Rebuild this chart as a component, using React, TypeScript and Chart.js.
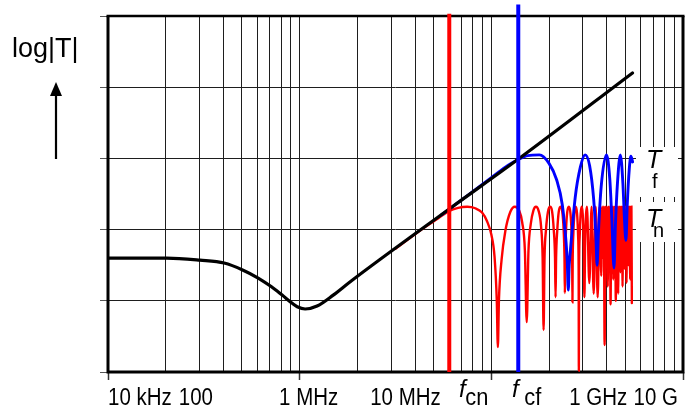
import React, { useEffect, useRef } from "react";
import { Chart, registerables } from "chart.js";

Chart.register(...registerables);

// ---- axes ----------------------------------------------------------------
// grid lines of the figure (Hz): inside every two-decade band the lines sit at 1,4,9,...,100 x band start
const gridFreqs = [
  1e4, 4e4, 9e4, 1.6e5, 2.5e5, 3.6e5, 4.9e5, 6.4e5, 8.1e5,
  1e6, 4e6, 9e6, 1.6e7, 2.5e7, 3.6e7, 4.9e7, 6.4e7, 8.1e7,
  1e8, 4e8, 9e8, 1.6e9, 2.5e9, 3.6e9, 4.9e9, 6.4e9, 8.1e9, 1e10,
];
const majorFreqs = [1e4, 1e6, 1e8, 1e10];
const xLabelFreqs = [1e4, 1e5, 1e6, 1e7, 1e9, 1e10];
const xLabelTexts = ["10 kHz", "100", "1 MHz", "10 MHz", "1 GHz", "10 G"];
const yMin = 0;
const yMax = 5;

// ---- curves (frequency, log|T|) --------------------------------------------
const envFreqHz = [
  1e4, 4.1e4, 9.1e4, 1.63e5, 2.57e5, 3.69e5, 5.04e5, 6.56e5, 8.36e5, 9.42e5,
  1.14e6, 1.52e6, 2.24e6, 3.37e6, 3.73e7, 1.87e8, 2.97e9,
];
const envLogT = [
  1.6, 1.6, 1.57, 1.53, 1.43, 1.32, 1.2, 1.08, 0.965, 0.917,
  0.885, 0.927, 1.08, 1.268, 2.3, 2.98, 4.2,
];

const tfFreqMHz = [
  30, 60, 100, 150, 191, 240, 317, 400, 480, 550, 600, 620, 635, 650, 670, 750, 850,
  952, 1060, 1170, 1230, 1270, 1310, 1400, 1590, 1720, 1810, 1905, 1970, 2070,
  2220, 2360, 2450, 2540, 2620, 2750, 2860, 2980,
];
const tfLogT = [
  2.205, 2.506, 2.728, 2.904, 2.985, 3.04, 3.05, 2.93, 2.7, 2.35, 1.85, 1.55, 1.15, 1.5, 1.72, 2.45, 2.88,
  3.05, 2.9, 2.42, 1.95, 1.5, 1.95, 2.6, 3.05, 2.72, 2.15, 1.46, 2.05, 2.65,
  3.05, 2.65, 2.15, 1.85, 2.35, 2.85, 3.03, 2.95,
];

const tnFreqMHz = [
  10, 20, 28, 36, 45, 56, 68, 80, 90, 100, 108, 114, 117, 120, 128, 140, 158,
  176, 195, 210, 224, 234, 244, 258, 275, 292, 312, 330, 343, 351, 359, 372, 390,
  410, 430, 448, 462, 468, 474, 488, 505, 527, 550, 568, 580, 585, 590, 602, 620,
  644, 668, 688, 698, 702, 706, 718, 738, 760, 785, 805, 815, 819, 823, 835, 855,
  877, 920, 936, 952, 995, 1053, 1112, 1170, 1229, 1287, 1346, 1404,
  1433, 1463, 1492, 1521, 1550, 1580, 1609, 1638, 1667, 1697, 1726, 1755, 1784,
  1814, 1843, 1872, 1901, 1931, 1960, 1989, 2018, 2048, 2077, 2106, 2135, 2165,
  2194, 2223, 2252, 2282, 2311, 2340, 2369, 2399, 2428, 2457, 2486, 2516, 2545,
  2574, 2603, 2633, 2662, 2691, 2720, 2750, 2779, 2808, 2837, 2867, 2896, 2925,
];
const tnLogT = [
  1.73, 2.03, 2.16, 2.26, 2.305, 2.32, 2.3, 2.24, 2.12, 1.93, 1.62, 1.0, 0.35, 1.0, 1.58, 1.98, 2.25,
  2.32, 2.27, 2.1, 1.7, 0.7, 1.7, 2.08, 2.27, 2.32, 2.26, 2.05, 1.6, 0.59, 1.6, 2.0, 2.25,
  2.32, 2.26, 2.0, 1.6, 1.05, 1.6, 2.0, 2.25, 2.32, 2.25, 2.0, 1.6, 1.11, 1.6, 2.0, 2.25,
  2.32, 2.24, 1.95, 1.55, 0.98, 1.55, 1.95, 2.24, 2.32, 2.22, 1.9, 1.4, 0.02, 1.4, 1.9, 2.22,
  2.32, 1.8, 1.05, 1.8, 2.32, 1.25, 2.32, 1.1, 2.32, 1.05, 2.32, 1.35,
  2.32, 1.6, 2.32, 0.38, 2.32, 1.5, 2.32, 1.2, 2.32, 1.55, 2.32, 0.95, 2.32,
  1.45, 2.32, 1.3, 2.32, 1.6, 2.32, 1.0, 2.32, 1.5, 2.32, 1.1, 2.32, 1.6,
  2.32, 1.4, 2.32, 1.55, 2.32, 1.2, 2.32, 1.65, 2.32, 1.45, 2.32, 1.6, 2.32,
  1.25, 2.32, 1.6, 2.32, 1.5, 2.32, 1.65, 2.32, 1.3, 2.32, 1.6, 2.32, 0.97,
];

// corner frequencies and the extent of their marker lines (log|T| units)
const fcnHz = 36.4e6;
const fcfHz = 191e6;
const fcnSpan = [0, 5.03];
const fcfSpan = [0, 5.16];

const FONT = "'Liberation Sans', Arial, Helvetica, sans-serif";

function txt(
  ctx: CanvasRenderingContext2D,
  s: string,
  x: number,
  y: number,
  font: string,
  align: CanvasTextAlign = "left",
  sx = 1
) {
  ctx.save();
  ctx.font = font;
  ctx.textAlign = align;
  ctx.textBaseline = "alphabetic";
  ctx.fillStyle = "#000";
  ctx.translate(x, y);
  ctx.scale(sx, 1);
  ctx.fillText(s, 0, 0);
  ctx.restore();
}

const decor = {
  id: "decor",
  beforeDatasetsDraw(chart: any) {
    const { ctx, chartArea: a } = chart;
    ctx.save();
    // white boxes behind the curve names
    ctx.fillStyle = "#fff";
    ctx.fillRect(636, 147, 42, 50);
    ctx.fillRect(636, 202, 42, 40);
    // frame
    ctx.strokeStyle = "#000";
    ctx.lineWidth = 3;
    ctx.beginPath();
    ctx.moveTo(a.left, a.top);
    ctx.lineTo(a.left, a.bottom);
    ctx.lineTo(a.right, a.bottom);
    ctx.lineTo(a.right, a.top);
    ctx.stroke();
    ctx.lineWidth = 2.5;
    ctx.beginPath();
    ctx.moveTo(a.left - 1.5, a.top);
    ctx.lineTo(a.right + 1.5, a.top);
    ctx.stroke();
    ctx.restore();
  },
  afterDraw(chart: any) {
    const { ctx } = chart;
    const xs = chart.scales.x;
    // y-axis title with arrow
    txt(ctx, "log|T|", 12, 57, `27px ${FONT}`);
    ctx.save();
    ctx.strokeStyle = "#000";
    ctx.fillStyle = "#000";
    ctx.lineWidth = 2.2;
    ctx.beginPath();
    ctx.moveTo(56, 94);
    ctx.lineTo(56, 159);
    ctx.stroke();
    ctx.beginPath();
    ctx.moveTo(56, 82);
    ctx.lineTo(50, 96);
    ctx.lineTo(62, 96);
    ctx.closePath();
    ctx.fill();
    ctx.restore();

    // x tick labels
    const shift = [0, -8, 9, 10, 11, -5];
    const align: CanvasTextAlign[] = ["left", "center", "center", "center", "center", "right"];
    xLabelFreqs.forEach((f, i) => {
      const px = xs.getPixelForValue(f) + shift[i];
      txt(ctx, xLabelTexts[i], px, 405, `23px ${FONT}`, align[i], 0.89);
    });

    // corner frequency labels
    const pn = xs.getPixelForValue(fcnHz);
    const pf = xs.getPixelForValue(fcfHz);
    txt(ctx, "f", pn + 13, 397, `italic 24px ${FONT}`, "center");
    txt(ctx, "cn", pn + 16, 405, `23px ${FONT}`, "left", 0.95);
    txt(ctx, "f", pf - 3, 397, `italic 24px ${FONT}`, "center");
    txt(ctx, "cf", pf + 6, 405, `23px ${FONT}`, "left", 0.95);

    // curve names
    txt(ctx, "T", 646, 168, `italic 25px ${FONT}`);
    txt(ctx, "f", 652, 188, `20px ${FONT}`);
    txt(ctx, "T", 646, 227, `italic 25px ${FONT}`);
    txt(ctx, "n", 653, 237, `20px ${FONT}`);
  },
};

function pts(fs: number[], vs: number[], k = 1) {
  return fs.map((f, i) => ({ x: f * k, y: vs[i] }));
}

export default function App() {
  const ref = useRef<HTMLCanvasElement | null>(null);
  useEffect(() => {
    if (!ref.current) return;
    const gridColor = "#1e1e1e";
    const chart = new Chart(ref.current, {
      type: "line",
      data: {
        datasets: [
          {
            label: "fcn",
            data: fcnSpan.map((v) => ({ x: fcnHz, y: v })),
            borderColor: "#ff0000",
            borderWidth: 4,
            pointRadius: 0,
            clip: false,
          } as any,
          {
            label: "fcf",
            data: fcfSpan.map((v) => ({ x: fcfHz, y: v })),
            borderColor: "#0000ff",
            borderWidth: 4,
            pointRadius: 0,
            clip: false,
          } as any,
          {
            label: "envelope",
            data: pts(envFreqHz, envLogT),
            borderColor: "#000000",
            borderWidth: 3.2,
            pointRadius: 0,
            cubicInterpolationMode: "monotone",
            borderCapStyle: "round",
          },
          {
            label: "Tf",
            data: pts(tfFreqMHz, tfLogT, 1e6),
            borderColor: "#0000ff",
            borderWidth: 2.9,
            pointRadius: 0,
            cubicInterpolationMode: "monotone",
            borderCapStyle: "round",
          },
          {
            label: "Tn",
            data: pts(tnFreqMHz, tnLogT, 1e6),
            borderColor: "#ff0000",
            borderWidth: 2.4,
            pointRadius: 0,
            cubicInterpolationMode: "monotone",
            borderCapStyle: "round",
          },
        ],
      },
      options: {
        animation: false,
        responsive: false,
        events: [],
        layout: { padding: { left: 100, top: 16, right: 8, bottom: 29 } },
        plugins: { legend: { display: false }, tooltip: { enabled: false } },
        scales: {
          x: {
            type: "logarithmic",
            min: 1e4,
            max: 1e10,
            afterBuildTicks: (scale: any) => {
              scale.ticks = gridFreqs.map((v) => ({ value: v }));
            },
            ticks: { display: false },
            border: { display: false },
            grid: {
              color: gridColor,
              lineWidth: 1,
              drawTicks: true,
              tickLength: 8,
              tickWidth: 1.5,
              tickColor: (c: any) =>
                c.tick && majorFreqs.includes(c.tick.value) ? "#333" : "rgba(0,0,0,0)",
            },
          },
          y: {
            type: "linear",
            min: yMin,
            max: yMax,
            ticks: { display: false, stepSize: 1 },
            border: { display: false },
            grid: {
              color: gridColor,
              lineWidth: 1,
              drawTicks: true,
              tickLength: 8,
              tickColor: "#555",
            },
          },
        },
      },
      plugins: [decor],
    });
    return () => chart.destroy();
  }, []);
  return (
    <div style={{ position: "fixed", left: 0, top: 0, width: 691, height: 409, background: "#fff" }}>
      <canvas ref={ref} width={691} height={409} />
    </div>
  );
}
